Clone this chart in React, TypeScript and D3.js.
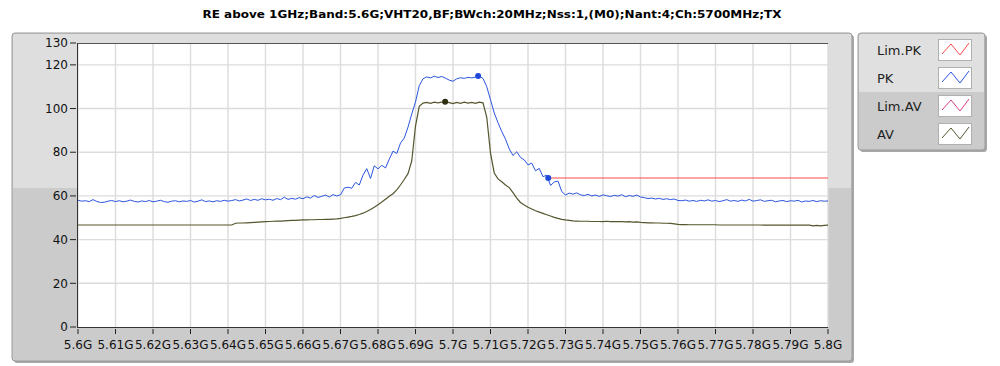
import * as d3 from 'd3';

// sweep: 5.600 GHz .. 5.800 GHz, 1 MHz per point
const freqStart = 5.6;
const freqStep = 0.001;

// PK trace (dBuV)
const pk = [
  58.0, 57.6, 57.8, 57.4, 58.3, 57.5, 57.0, 57.1, 57.6, 57.9,
  57.4, 57.8, 57.3, 57.6, 58.1, 57.5, 57.2, 57.7, 57.4, 57.9,
  57.3, 57.6, 58.0, 57.4, 57.1, 57.6, 57.8, 57.3, 57.7, 57.5,
  57.9, 57.2, 57.6, 58.2, 57.4, 57.7, 57.3, 57.8, 57.5, 58.0,
  57.6, 57.9, 58.3, 57.7, 58.1, 58.6, 57.9, 58.4, 58.0, 58.7,
  58.2, 58.5, 58.0, 58.8, 58.3, 59.4, 58.4, 58.9, 58.5, 59.2,
  58.7, 59.6, 59.0, 60.2, 59.3, 59.8, 60.4, 59.5, 60.6, 60.0,
  60.5, 63.6, 64.0, 63.5, 66.2, 65.0, 69.5, 72.5, 68.0, 73.8,
  72.4, 74.0, 72.8, 76.8, 80.5, 79.4, 84.2, 86.5, 91.5, 97.5,
  103.0, 110.5, 113.6, 114.5, 114.0, 114.8, 114.2, 114.7, 113.9, 113.0,
  112.5, 113.6, 114.1, 113.8, 114.3, 114.0, 114.4, 114.9, 113.8, 110.0,
  104.0, 98.0, 93.5, 89.5, 86.0, 81.5, 78.5, 80.2, 77.6, 76.5,
  74.2, 75.0, 71.5, 72.6, 68.8, 69.5, 64.8, 66.4, 66.8, 62.0,
  60.4, 61.3, 60.8, 61.4, 60.5, 60.2, 60.7, 60.0, 60.4, 59.8,
  60.5, 60.1, 59.7, 60.3, 59.9, 60.6, 59.6, 60.2, 59.8, 60.4,
  59.5, 59.2, 58.8, 59.0, 58.6, 58.9, 58.4, 58.7, 58.3, 58.6,
  57.9, 57.8, 58.1, 57.6, 57.9, 57.5, 58.0, 57.7, 58.2, 57.6,
  57.9, 57.4, 57.8, 58.3, 57.6, 57.9, 57.5, 58.1, 57.7, 58.4,
  57.6, 57.9, 58.2, 57.5, 57.8, 58.0, 57.3, 57.7, 57.9, 57.4,
  57.8, 57.6, 58.0, 57.2, 57.7, 57.5, 57.9, 57.4, 57.8, 57.6,
  57.7,
];

// AV trace (dBuV)
const av = [
  46.7, 46.7, 46.7, 46.7, 46.7, 46.7, 46.7, 46.7, 46.7, 46.7,
  46.7, 46.7, 46.7, 46.7, 46.7, 46.7, 46.7, 46.7, 46.7, 46.7,
  46.7, 46.7, 46.7, 46.7, 46.7, 46.7, 46.7, 46.7, 46.7, 46.7,
  46.7, 46.7, 46.7, 46.7, 46.7, 46.7, 46.7, 46.7, 46.7, 46.7,
  46.7, 46.7, 47.5, 47.6, 47.6, 47.7, 47.8, 47.9, 48.0, 48.1,
  48.2, 48.3, 48.4, 48.5, 48.5, 48.6, 48.7, 48.8, 48.8, 48.9,
  49.0, 49.0, 49.1, 49.1, 49.2, 49.2, 49.3, 49.3, 49.4, 49.5,
  49.7, 50.0, 50.3, 50.6, 51.0, 51.5, 52.1, 52.9, 53.8, 54.8,
  56.0, 57.2, 58.5, 59.8, 61.0, 62.8, 65.0, 67.5, 70.2, 76.0,
  92.0, 101.0, 102.5, 102.8, 102.4, 102.9, 102.6, 102.9, 103.1, 102.7,
  102.3, 102.8, 102.4, 102.9, 102.5, 102.8, 102.4, 102.9, 102.6, 96.0,
  79.6, 70.5, 67.8, 66.5, 65.0, 63.8, 61.5, 59.0, 57.0, 55.8,
  54.8, 54.0, 53.2, 52.6, 52.0, 51.4, 50.8, 50.2, 49.7, 49.3,
  49.0, 48.8, 48.6, 48.5, 48.4, 48.4, 48.4, 48.3, 48.3, 48.3,
  48.2, 48.4, 48.2, 48.3, 48.2, 48.2, 48.1, 48.2, 48.0, 48.1,
  47.9, 47.8, 47.7, 47.7, 47.6, 47.6, 47.5, 47.5, 47.4, 47.2,
  47.0, 46.9, 46.9, 46.8, 46.8, 46.8, 46.8, 46.8, 46.8, 46.8,
  46.8, 46.7, 46.7, 46.7, 46.7, 46.7, 46.7, 46.7, 46.7, 46.7,
  46.7, 46.7, 46.7, 46.6, 46.6, 46.6, 46.6, 46.6, 46.6, 46.6,
  46.6, 46.6, 46.6, 46.6, 46.6, 46.6, 46.3, 46.5, 46.3, 46.5,
  46.6,
];

// Lim.PK line
const limPkFreq = [5.725, 5.8];
const limPk = [68.2, 68.2];

// markers [GHz, dBuV]
const pkMarkers: [number, number][] = [[5.7067, 114.9], [5.7254, 68.2]];
const avMarkers: [number, number][] = [[5.6979, 103.1]];

const xTicks = [5.6, 5.61, 5.62, 5.63, 5.64, 5.65, 5.66, 5.67, 5.68, 5.69, 5.7,
  5.71, 5.72, 5.73, 5.74, 5.75, 5.76, 5.77, 5.78, 5.79, 5.8];
const xTickLabels = ['5.6G', '5.61G', '5.62G', '5.63G', '5.64G', '5.65G', '5.66G', '5.67G',
  '5.68G', '5.69G', '5.7G', '5.71G', '5.72G', '5.73G', '5.74G', '5.75G', '5.76G', '5.77G',
  '5.78G', '5.79G', '5.8G'];
const yTicks = [0, 20, 40, 60, 80, 100, 120, 130];
const yGrid = [20, 40, 60, 80, 100, 120];

const legendNames = ['Lim.PK', 'PK', 'Lim.AV', 'AV'];
const legendColors = ['#ff4a4a', '#2c55e0', '#e0408a', '#55552e'];

const title = 'RE above 1GHz;Band:5.6G;VHT20,BF;BWch:20MHz;Nss:1,(M0);Nant:4;Ch:5700MHz;TX';

const font = 'DejaVu Sans, sans-serif';

export default function App() {
  const x = d3.scaleLinear().domain([5.6, 5.8]).range([78, 828]);
  const y = d3.scaleLinear().domain([0, 130]).range([327, 43]);

  const line = d3.line<[number, number]>()
    .x((d) => x(d[0]))
    .y((d) => y(d[1]));

  const pkPts = pk.map((v, i) => [freqStart + i * freqStep, v] as [number, number]);
  const avPts = av.map((v, i) => [freqStart + i * freqStep, v] as [number, number]);
  const limPts = limPkFreq.map((f, i) => [f, limPk[i]] as [number, number]);

  const [x0, x1] = x.range();
  const [yb, yt] = y.range();

  return (
    <svg width={1000} height={366} style={{ position: 'absolute', left: 0, top: 0, background: '#fff' }}>
      <defs>
        <clipPath id="plot">
          <rect x={x0} y={yt} width={x1 - x0} height={yb - yt} />
        </clipPath>
      </defs>

      <text x={492} y={18} textAnchor="middle" fontFamily={font} fontWeight="bold" fontSize={11}
        textLength={579} lengthAdjust="spacingAndGlyphs" fill="#000">{title}</text>

      {/* chart panel */}
      <rect x={14} y={35} width={840} height={328} rx={3} fill="#a8a8a8" />
      <rect x={12} y={33} width={840} height={328} rx={3} fill="#cbcbcb" stroke="#9a9a9a" />
      <path d={`M13,${188} V37 Q13,34 16,34 H851 V188 Z`} fill="#dedede" />

      {/* plot area */}
      <rect x={x0} y={yt} width={x1 - x0} height={yb - yt} fill="#fff" />
      {xTicks.map((t) => (
        <line key={'gx' + t} x1={x(t)} x2={x(t)} y1={yt} y2={yb} stroke="#dcdcdc" strokeWidth={1.4} />
      ))}
      {yGrid.map((t) => (
        <line key={'gy' + t} x1={x0} x2={x1} y1={y(t)} y2={y(t)} stroke="#dcdcdc" strokeWidth={1.4} />
      ))}
      <line x1={x0} x2={x1} y1={yt + 0.5} y2={yt + 0.5} stroke="#555" />

      <g clipPath="url(#plot)">
        <path d={line(limPts) ?? ''} fill="none" stroke={legendColors[0]} strokeWidth={1.2} />
        <path d={line(avPts) ?? ''} fill="none" stroke={legendColors[3]} strokeWidth={1.2} />
        <path d={line(pkPts) ?? ''} fill="none" stroke={legendColors[1]} strokeWidth={1} />
        {pkMarkers.map((m, i) => (
          <circle key={'pm' + i} cx={x(m[0])} cy={y(m[1])} r={3} fill="#1f48d8" />
        ))}
        {avMarkers.map((m, i) => (
          <circle key={'am' + i} cx={x(m[0])} cy={y(m[1])} r={3} fill="#2f2f12" />
        ))}
      </g>

      {/* axes */}
      <line x1={x0 - 0.5} x2={x0 - 0.5} y1={yt} y2={yb + 1} stroke="#333" />
      <line x1={x0} x2={x1} y1={yb + 0.5} y2={yb + 0.5} stroke="#333" />
      {yTicks.map((t) => (
        <g key={'yt' + t}>
          <line x1={x0 - 8} x2={x0 - 2} y1={y(t)} y2={y(t)} stroke="#222" />
          <text x={x0 - 10} y={y(t)} dy="0.35em" textAnchor="end" fontFamily={font} fontSize={12} fill="#111">{t}</text>
        </g>
      ))}
      {xTicks.map((t, i) => (
        <g key={'xt' + t}>
          <line x1={x(t)} x2={x(t)} y1={yb + 2} y2={yb + 7} stroke="#222" />
          <text x={x(t)} y={349} textAnchor="middle" fontFamily={font} fontSize={12} fill="#111">{xTickLabels[i]}</text>
        </g>
      ))}

      {/* legend */}
      <rect x={860} y={35} width={127} height={117} rx={3} fill="#a8a8a8" />
      <rect x={858} y={33} width={127} height={117} rx={3} fill="#cbcbcb" stroke="#9a9a9a" />
      <path d="M859,92 V37 Q859,34 862,34 H984 V92 Z" fill="#e0e0e0" />
      {legendNames.map((name, i) => {
        const ry = 39 + i * 28;
        return (
          <g key={name}>
            <text x={877} y={ry + 11} dy="0.35em" fontFamily={font} fontSize={13} fill="#222">{name}</text>
            <rect x={938.5} y={ry + 0.5} width={33} height={21} fill="#fff" stroke="#b0b0b0" />
            <polyline points={`${942},${ry + 15} ${951},${ry + 5} ${960},${ry + 16} ${969},${ry + 4}`}
              fill="none" stroke={legendColors[i]} strokeWidth={1} />
          </g>
        );
      })}
    </svg>
  );
}
